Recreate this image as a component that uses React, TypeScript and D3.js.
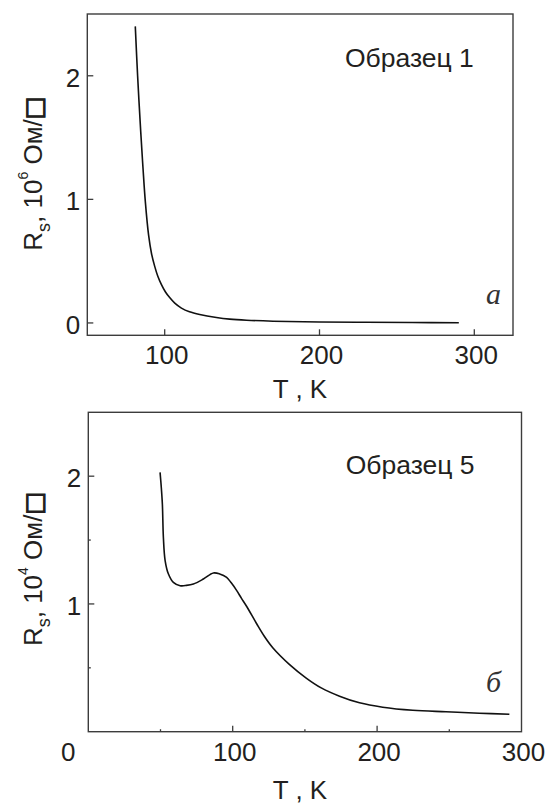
import React from "react";
import * as d3 from "d3";

// Panel a: Образец 1 (R_s in 10^6 Ом/□)
const tempA = [81, 82.5, 84.5, 86, 87.5, 89.6, 91.5, 93.5, 95.5, 97.9, 100.5, 103.2, 106.5, 110.8, 116, 122.6, 133.4, 142, 152.9, 170, 200, 230, 260, 290];
const resA = [2.4, 2.0, 1.55, 1.25, 0.98, 0.71, 0.56, 0.46, 0.38, 0.31, 0.25, 0.205, 0.16, 0.12, 0.09, 0.068, 0.044, 0.031, 0.022, 0.014, 0.008, 0.005, 0.003, 0.002];
const xTicksA = [100, 200, 300];
const yTicksA = [0, 1, 2];

// Panel б: Образец 5 (R_s in 10^4 Ом/□)
const tempB = [49.7, 50.5, 51.3, 52.0, 53.2, 55.5, 58.9, 63.6, 68, 72.8, 79.7, 86.6, 91, 95.8, 99, 102.8, 106, 109.7, 116.6, 122, 127.9, 139.4, 150.9, 161.3, 174, 187.8, 203.9, 224.7, 247.7, 270.8, 291.6];
const resB = [2.03, 1.92, 1.78, 1.52, 1.34, 1.234, 1.169, 1.143, 1.145, 1.156, 1.195, 1.242, 1.235, 1.208, 1.165, 1.104, 1.045, 0.98, 0.845, 0.745, 0.655, 0.525, 0.42, 0.343, 0.278, 0.226, 0.192, 0.168, 0.156, 0.145, 0.137];
const xTicksB = [0, 100, 200, 300];
const xMinorB = [50, 150, 250];
const yTicksB = [1, 2];
const yMinorB = [0.5, 1.5];

const SANS = "'Liberation Sans', Arial, Helvetica, sans-serif";
const SERIF = "'Liberation Serif', 'Times New Roman', serif";
const TXT = "#231f20";
const FRAME = "#3c3c3c";

type PanelProps = {
  temps: number[];
  vals: number[];
  xDomain: [number, number];
  yDomain: [number, number];
  box: { l: number; r: number; t: number; b: number };
  xTicks: number[];
  xMinor: number[];
  yTicks: number[];
  yTickMarks: number[];
  yMinor: number[];
  xLabelTicks: number[];
  exponent: string;
  sample: string;
  letter: string;
  sampleX: number;
  sampleBaseline: number;
  xTitleOffset: number;
  yTitleShift: number;
  letterBaseline: number;
};

function Panel(p: PanelProps) {
  const x = d3.scaleLinear().domain(p.xDomain).range([p.box.l, p.box.r]);
  const y = d3.scaleLinear().domain(p.yDomain).range([p.box.b, p.box.t]);
  const pts = p.temps.map((t, i) => [t, p.vals[i]] as [number, number]);
  const line = d3
    .line<[number, number]>()
    .x((d) => x(d[0]))
    .y((d) => y(d[1]))
    .curve(d3.curveCatmullRom.alpha(0.5));
  const cy = (p.box.t + p.box.b) / 2 + p.yTitleShift;
  return (
    <g>
      <rect
        x={p.box.l}
        y={p.box.t}
        width={p.box.r - p.box.l}
        height={p.box.b - p.box.t}
        fill="none"
        stroke={FRAME}
        strokeWidth={1.4}
      />
      {p.xTicks
        .filter((t) => x(t) > p.box.l + 1 && x(t) < p.box.r - 1)
        .map((t) => (
          <line key={"xt" + t} x1={x(t)} x2={x(t)} y1={p.box.b} y2={p.box.b - 6} stroke={FRAME} strokeWidth={1.3} />
        ))}
      {p.xMinor.map((t) => (
        <line key={"xm" + t} x1={x(t)} x2={x(t)} y1={p.box.b} y2={p.box.b - 2.5} stroke={FRAME} strokeWidth={1.3} />
      ))}
      {p.yTickMarks.map((v) => (
        <line key={"yt" + v} x1={p.box.l} x2={p.box.l + 6} y1={y(v)} y2={y(v)} stroke={FRAME} strokeWidth={1.3} />
      ))}
      {p.yMinor.map((v) => (
        <line key={"ym" + v} x1={p.box.l} x2={p.box.l + 2.5} y1={y(v)} y2={y(v)} stroke={FRAME} strokeWidth={1.3} />
      ))}
      {p.xLabelTicks.map((t) => (
        <text
          key={"xl" + t}
          x={x(t) + (t === 0 ? -20 : 2)}
          y={p.box.b + 29}
          textAnchor="middle"
          fontFamily={SANS}
          fontSize={26}
          fill={TXT}
        >
          {t}
        </text>
      ))}
      {p.yTicks.map((v) => (
        <text
          key={"yl" + v}
          x={p.box.l - 7}
          y={y(v) + 11}
          textAnchor="end"
          fontFamily={SANS}
          fontSize={26}
          fill={TXT}
        >
          {v}
        </text>
      ))}
      <path d={line(pts) || ""} fill="none" stroke="#111" strokeWidth={1.6} strokeLinejoin="round" />
      <text x={300} y={p.box.b + p.xTitleOffset} textAnchor="middle" fontFamily={SANS} fontSize={26} fill={TXT}>
        T , K
      </text>
      <text
        transform={`translate(41.7, ${cy}) rotate(-90)`}
        textAnchor="middle"
        fontFamily={SANS}
        fontSize={26}
        fill={TXT}
      >
        R
        <tspan fontSize={18} dy={8}>
          s
        </tspan>
        <tspan dy={-8}>, 10</tspan>
        <tspan fontSize={14} dy={-14}>
          {p.exponent}
        </tspan>
        <tspan dy={14}> Ом/</tspan>
        <tspan
          fontFamily="'DejaVu Sans', sans-serif"
          fontWeight="bold"
          fontSize={24}
          stroke={TXT}
          strokeWidth={1.2}
        >
          □
        </tspan>
      </text>
      <text x={p.sampleX} y={p.sampleBaseline} fontFamily={SANS} fontSize={26.5} fill={TXT}>
        {p.sample}
      </text>
      <text
        x={501}
        y={p.letterBaseline}
        textAnchor="end"
        fontFamily={SERIF}
        fontStyle="italic"
        fontSize={30}
        fill="#333"
      >
        {p.letter}
      </text>
    </g>
  );
}

export default function App() {
  return (
    <svg
      width={547}
      height={807}
      viewBox="0 0 547 807"
      style={{ position: "absolute", left: 0, top: 0, background: "#fff" }}
    >
      <rect x={0} y={0} width={547} height={807} fill="#fff" />
      <Panel
        temps={tempA}
        vals={resA}
        xDomain={[50, 325]}
        yDomain={[-0.1, 2.5]}
        box={{ l: 87.3, r: 513, t: 14, b: 335.3 }}
        xTicks={xTicksA}
        xMinor={[]}
        yTicks={yTicksA}
        yTickMarks={yTicksA}
        yMinor={[]}
        xLabelTicks={xTicksA}
        exponent="6"
        sample="Образец 1"
        letter="a"
        sampleX={345}
        sampleBaseline={66.7}
        xTitleOffset={63}
        yTitleShift={-1}
        letterBaseline={303.5}
      />
      <Panel
        temps={tempB}
        vals={resB}
        xDomain={[0, 300]}
        yDomain={[0, 2.5]}
        box={{ l: 88.3, r: 521.5, t: 412.3, b: 731.7 }}
        xTicks={xTicksB}
        xMinor={xMinorB}
        yTicks={yTicksB}
        yTickMarks={yTicksB}
        yMinor={yMinorB}
        xLabelTicks={xTicksB}
        exponent="4"
        sample="Образец 5"
        letter="б"
        sampleX={345.7}
        sampleBaseline={474}
        xTitleOffset={67.5}
        yTitleShift={-3}
        letterBaseline={691.5}
      />
    </svg>
  );
}
